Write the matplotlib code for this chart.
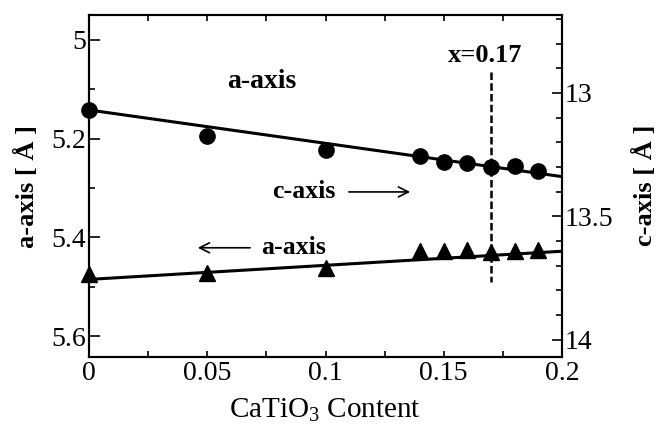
import matplotlib
matplotlib.use("Agg")
import matplotlib.pyplot as plt
from matplotlib.ticker import MultipleLocator

plt.rcParams['font.family'] = ['Liberation Serif', 'DejaVu Serif']
plt.rcParams['mathtext.fontset'] = 'custom'
plt.rcParams['mathtext.rm'] = 'Liberation Serif'

x_content = [0.0, 0.05, 0.1, 0.14, 0.15, 0.16, 0.17, 0.18, 0.19]
c_axis = [13.069, 13.176, 13.233, 13.257, 13.278, 13.282, 13.298, 13.294, 13.318]
a_axis = [5.475, 5.473, 5.461, 5.428, 5.428, 5.426, 5.430, 5.428, 5.426]
c_fit_x = [0.0, 0.2]
c_fit = [13.069, 13.339]
a_fit_x = [0.0, 0.2]
a_fit = [5.485, 5.428]
x_ticks = [0, 0.05, 0.1, 0.15, 0.2]
x_labels = ['0', '0.05', '0.1', '0.15', '0.2']
a_ticks = [5.0, 5.2, 5.4, 5.6]
a_labels = ['5', '5.2', '5.4', '5.6']
c_ticks = [13.0, 13.5, 14.0]
c_labels = ['13', '13.5', '14']

W, H = 664, 426
fig = plt.figure(figsize=(W/100, H/100), dpi=100)
ax = fig.add_axes([89/W, 1-357/H, (562-89)/W, (357-15)/H])
ax2 = ax.twinx()

ax.set_xlim(0, 0.2)
ax.set_ylim(5.642, 4.95)
ax2.set_ylim(14.07, 12.684)

ax.plot(a_fit_x, a_fit, color='black', lw=2.2, zorder=3)
ax.plot(x_content, a_axis, linestyle='none', marker='^', ms=11, color='black', zorder=4, clip_on=False)
ax2.plot(c_fit_x, c_fit, color='black', lw=2.2, zorder=3)
ax2.plot(x_content, c_axis, linestyle='none', marker='o', ms=11, color='black', zorder=4, clip_on=False)

ax.set_xticks(x_ticks)
ax.set_xticklabels(x_labels)
ax.xaxis.set_minor_locator(MultipleLocator(0.025))
ax.set_yticks(a_ticks)
ax.set_yticklabels(a_labels)
ax.yaxis.set_minor_locator(MultipleLocator(0.1))
ax2.set_yticks(c_ticks)
ax2.set_yticklabels(c_labels)
ax2.yaxis.set_minor_locator(MultipleLocator(0.1))

for a in (ax, ax2):
    for s in a.spines.values():
        s.set_linewidth(1.5)
ax.tick_params(axis='both', which='major', direction='in', width=1.2, labelsize=20, top=True)
ax.tick_params(axis='y', which='major', length=8)
ax.tick_params(axis='x', which='major', length=4)
ax.tick_params(axis='both', which='minor', direction='in', length=4, width=1.2, top=True)
ax2.tick_params(axis='y', which='major', direction='in', length=7.5, width=1.2, labelsize=20)
ax2.tick_params(axis='y', which='minor', direction='in', length=4, width=1.2)
ax.tick_params(axis='x', pad=3)
ax.tick_params(axis='y', pad=2)
ax2.tick_params(axis='y', pad=2)

fig.text(325/W, 1-410/H, 'CaTiO$_3$ Content', fontsize=21, ha='center', va='center')
fig.text(27/W, 1-186/H, 'a-axis [ Å ]', fontsize=19, fontweight='bold', rotation=90, ha='center', va='center')
fig.text(645/W, 1-185/H, 'c-axis [ Å ]', fontsize=19, fontweight='bold', rotation=90, ha='center', va='center')

ax.text(0.0732, 5.0855, 'a-axis', fontsize=20, fontweight='bold', ha='center', va='center')
ax.text(0.1674, 5.031, 'x=0.17', fontsize=19, fontweight='bold', ha='center', va='center')
ax.plot([0.17, 0.17], [5.065, 5.49], color='black', lw=1.8, ls=(0, (3, 1.3)), zorder=2)

ax.text(0.0909, 5.308, 'c-axis', fontsize=18.5, fontweight='bold', ha='center', va='center')
ax.annotate('', xy=(0.137, 5.308), xytext=(0.1087, 5.308),
            arrowprops=dict(arrowstyle='->', color='black', lw=1.2, mutation_scale=18))
ax.text(0.0867, 5.421, 'a-axis', fontsize=18.5, fontweight='bold', ha='center', va='center')
ax.annotate('', xy=(0.0448, 5.421), xytext=(0.0693, 5.421),
            arrowprops=dict(arrowstyle='->', color='black', lw=1.2, mutation_scale=18))

fig.savefig('out.png', dpi=100)
